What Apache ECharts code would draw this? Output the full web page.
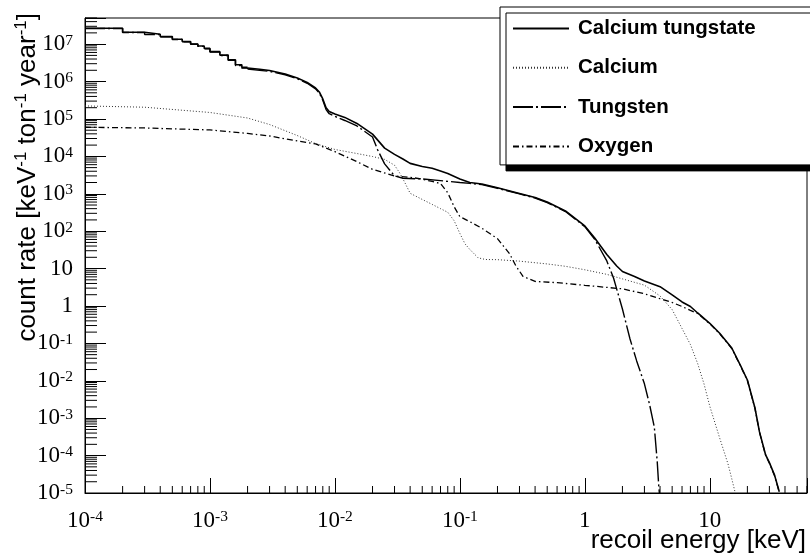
<!DOCTYPE html>
<html>
<head>
<meta charset="utf-8">
<script src="https://cdn.jsdelivr.net/npm/echarts@6/dist/echarts.min.js"></script>
<style>html,body{margin:0;padding:0;background:#fff}#main{width:810px;height:557px}</style>
</head>
<body>
<div id="main"></div>
<script>
// ---------------- data ----------------
// Calcium tungstate (total), low-energy histogram steps
const energyTotalSteps = [1e-4, 2e-4, 3e-4, 4e-4, 5e-4, 6e-4, 7e-4, 8e-4, 9e-4, 1e-3, 1.2e-3, 1.4e-3, 1.6e-3, 1.8e-3, 2e-3];
const rateTotalSteps   = [2.66e7, 2.08e7, 1.84e7, 1.59e7, 1.35e7, 1.17e7, 1.01e7, 8.9e6, 7.7e6, 6.3e6, 5.1e6, 3.8e6, 2.8e6, 2.4e6, 2.31e6];
// Calcium tungstate (total), rest of the spectrum
const energyTotal = [2e-3, 2.5e-3, 3e-3, 4e-3, 5e-3, 6e-3, 7e-3, 7.5e-3, 8e-3, 8.5e-3, 9e-3, 1e-2, 1.2e-2, 1.5e-2, 2e-2, 2.5e-2, 3e-2, 3.5e-2, 4e-2, 5e-2, 6e-2, 7e-2, 8e-2, 0.1, 0.12, 0.15, 0.2, 0.3, 0.4, 0.5, 0.7, 1, 1.2, 1.5, 1.8, 2, 2.5, 3, 4, 5, 6, 7, 8, 10, 12, 15, 18, 20, 23, 25, 28, 30, 33, 36];
const rateTotal   = [2.31e6, 2.13e6, 1.98e6, 1.60e6, 1.25e6, 9.5e5, 6.75e5, 5.27e5, 3.43e5, 1.99e5, 1.59e5, 1.36e5, 1.10e5, 7.6e4, 3.93e4, 1.66e4, 1.13e4, 8.5e3, 6.5e3, 5.37e3, 4.83e3, 4.07e3, 3.49e3, 2.49e3, 2.0e3, 1.82e3, 1.45e3, 1.02e3, 7.96e2, 6.0e2, 3.47e2, 1.38e2, 65.8, 23.8, 11.7, 8.36, 6.15, 4.66, 3.28, 1.97, 1.28, 0.97, 0.65, 0.344, 0.186, 0.0753, 0.022, 0.0105, 1.87e-3, 4.3e-4, 1.04e-4, 6.5e-5, 3.0e-5, 1.08e-5];

// Tungsten
const energyTungstenSteps = [1e-4, 2e-4, 3e-4, 4e-4, 5e-4, 6e-4, 7e-4, 8e-4, 9e-4, 1e-3, 1.2e-3, 1.4e-3, 1.6e-3, 1.8e-3, 2e-3];
const rateTungstenSteps   = [2.63e7, 2.05e7, 1.81e7, 1.565e7, 1.33e7, 1.15e7, 9.9e6, 8.7e6, 7.55e6, 6.15e6, 4.97e6, 3.68e6, 2.69e6, 2.28e6, 2.16e6];
const energyTungsten = [2e-3, 2.5e-3, 3e-3, 4e-3, 5e-3, 6e-3, 7e-3, 7.5e-3, 8e-3, 8.5e-3, 9e-3, 1e-2, 1.2e-2, 1.5e-2, 2e-2, 2.2e-2, 2.5e-2, 3e-2, 3.5e-2, 5e-2, 7e-2, 0.1, 0.12, 0.15, 0.2, 0.3, 0.4, 0.5, 0.7, 1, 1.2, 1.5, 1.7, 2, 2.3, 2.6, 3, 3.3, 3.6, 3.8, 3.9, 3.95];
const rateTungsten   = [2.16e6, 1.99e6, 1.87e6, 1.52e6, 1.19e6, 9.0e5, 6.4e5, 4.95e5, 3.15e5, 1.78e5, 1.38e5, 1.17e5, 9.1e4, 6.5e4, 3.3e4, 1.48e4, 6.3e3, 3.0e3, 2.6e3, 2.49e3, 2.24e3, 2.0e3, 1.9e3, 1.75e3, 1.40e3, 9.9e2, 7.7e2, 5.8e2, 3.35e2, 1.32e2, 61, 16, 5.5, 0.83, 0.131, 0.034, 8.3e-3, 2.3e-3, 5.8e-4, 6.7e-5, 1.64e-5, 1.0e-5];

// Calcium
const energyCalcium = [1e-4, 3e-4, 1e-3, 2e-3, 3e-3, 5e-3, 7e-3, 1e-2, 1.5e-2, 2e-2, 2.5e-2, 3e-2, 3.3e-2, 3.6e-2, 4e-2, 5e-2, 6e-2, 7e-2, 8e-2, 9e-2, 0.1, 0.11, 0.12, 0.14, 0.16, 0.2, 0.3, 0.5, 0.7, 1, 1.5, 2, 3, 4, 5, 6, 7, 8, 9, 10, 12, 14, 15, 16];
const rateCalcium   = [2.23e5, 2.06e5, 1.49e5, 1.06e5, 7.1e4, 3.6e4, 2.2e4, 1.53e4, 1.19e4, 9.9e3, 8.3e3, 5.8e3, 3.6e3, 2.1e3, 1.03e3, 7.05e2, 5.2e2, 4.0e2, 3.2e2, 1.9e2, 87, 45.7, 32.6, 19.4, 17.5, 17.3, 15.8, 13.3, 11.5, 9.3, 7.0, 5.3, 3.6, 1.85, 0.8, 0.25, 0.093, 0.029, 8.2e-3, 2.1e-3, 2.96e-4, 5.96e-5, 2.4e-5, 1.0e-5];

// Oxygen
const energyOxygen = [1e-4, 3e-4, 1e-3, 2e-3, 3e-3, 5e-3, 7e-3, 1e-2, 1.5e-2, 2e-2, 3e-2, 4e-2, 5e-2, 6e-2, 7e-2, 8e-2, 9e-2, 0.1, 0.12, 0.15, 0.2, 0.25, 0.28, 0.32, 0.4, 0.6, 1, 2, 3, 4, 5, 6, 7, 8, 10, 12, 15, 18, 20, 23, 25, 28, 30, 33, 36];
const rateOxygen   = [6.0e4, 5.74e4, 5.08e4, 4.1e4, 3.5e4, 2.58e4, 2.15e4, 1.34e4, 7.2e3, 4.5e3, 2.99e3, 2.76e3, 2.46e3, 2.13e3, 1.88e3, 1.06e3, 4.5e2, 2.44e2, 1.8e2, 1.2e2, 63, 25, 12, 6.2, 4.52, 4.2, 3.57, 2.87, 2.12, 1.56, 1.24, 0.97, 0.76, 0.63, 0.335, 0.181, 0.073, 0.0213, 0.0102, 1.82e-3, 4.2e-4, 1.01e-4, 6.3e-5, 2.9e-5, 1.05e-5];

// axes
const xMin = 1e-4, xMax = 60;
const yMin = 1e-5, yMax = 5e7;
const xMajorTicks = [1e-4, 1e-3, 1e-2, 1e-1, 1, 10];
const yMajorTicks = [1e-5, 1e-4, 1e-3, 1e-2, 1e-1, 1, 10, 1e2, 1e3, 1e4, 1e5, 1e6, 1e7];
const minorSteps = [2, 3, 4, 5, 6, 7, 8, 9];
const seriesNames = ['Calcium tungstate', 'Calcium', 'Tungsten', 'Oxygen'];
const xTitle = 'recoil energy [keV]';
const yTitle = 'count rate [keV{s|-1} ton{s|-1} year{s|-1}]';

// ---------------- helpers ----------------
function pairs(xs, ys) { return xs.map(function (x, i) { return [x, ys[i]]; }); }
function minorTicks(majors, hi) {
  const out = [];
  majors.forEach(function (m) { minorSteps.forEach(function (k) { const v = m * k; if (v <= hi * 1.0001) out.push(v); }); });
  return out;
}
const xMinor = minorTicks(xMajorTicks, xMax);
const yMinor = minorTicks(yMajorTicks, yMax);

function powLabel(v) {
  const e = Math.log10(v), n = Math.round(e);
  if (Math.abs(e - n) > 1e-6) return '';
  if (n === 0) return '{b|1}';
  if (n === 1) return '{b|10}';
  return '{b|10}{s|' + n + '}';
}
const labelRich = {
  b: { fontFamily: 'Liberation Serif', fontSize: 23, lineHeight: 23, color: '#000' },
  s: { fontFamily: 'Liberation Serif', fontSize: 15.5, lineHeight: 13, color: '#000', verticalAlign: 'top' }
};

const chart = echarts.init(document.getElementById('main'), null, { renderer: 'canvas' });

const option = {
  animation: false,
  backgroundColor: '#fff',
  grid: { left: 85, right: 3, top: 18, bottom: 64, containLabel: false, outerBoundsMode: 'none', show: true, borderColor: '#000', borderWidth: 1, backgroundColor: 'transparent' },
  legend: {
    data: seriesNames,
    orient: 'vertical',
    left: 500, top: 7,
    padding: [11, 80, 8, 12],
    itemWidth: 56, itemHeight: 14, itemGap: 18.3,
    backgroundColor: '#fff', borderColor: '#000', borderWidth: 1,
    shadowColor: '#000', shadowBlur: 0, shadowOffsetX: 6, shadowOffsetY: 6,
    selectedMode: false,
    itemStyle: { opacity: 0 },
    textStyle: { fontFamily: 'Liberation Sans', fontWeight: 'bold', fontSize: 20.5, lineHeight: 20, color: '#000', padding: [0, 0, 0, 4] }
  },
  graphic: [
    {
      type: 'text', x: 806, y: 541, silent: true,
      style: { text: xTitle, fontFamily: 'Liberation Sans', fontSize: 26, fill: '#000', align: 'right', verticalAlign: 'middle' }
    },
    {
      type: 'text', x: 28, y: 13, rotation: Math.PI / 2, silent: true,
      style: {
        text: yTitle, fontFamily: 'Liberation Sans', fontSize: 26, lineHeight: 30, fill: '#000', align: 'right', verticalAlign: 'middle',
        rich: { s: { fontFamily: 'Liberation Sans', fontSize: 17, lineHeight: 17, fill: '#000', verticalAlign: 'top' } }
      }
    }
  ],
  xAxis: {
    type: 'log', logBase: 10, min: xMin, max: xMax, interval: 1,
    axisLine: { show: true, lineStyle: { color: '#000', width: 1 } },
    axisTick: { show: true, inside: true, length: 15, lineStyle: { color: '#000', width: 1 } },
    axisLabel: { show: true, margin: 16, formatter: powLabel, rich: labelRich },
    splitLine: { show: false }, minorTick: { show: false }, minorSplitLine: { show: false }
  },
  yAxis: {
    type: 'log', logBase: 10, min: yMin, max: yMax, interval: 1,
    axisLine: { show: true, lineStyle: { color: '#000', width: 1 } },
    axisTick: { show: true, inside: true, length: 21, lineStyle: { color: '#000', width: 1 } },
    axisLabel: { show: true, margin: 12, formatter: powLabel, rich: labelRich },
    splitLine: { show: false }, minorTick: { show: false }, minorSplitLine: { show: false }
  },
  series: [
    {
      name: 'Calcium', type: 'line', symbol: 'none', z: 3, color: '#333',
      data: pairs(energyCalcium, rateCalcium),
      lineStyle: { color: '#333', width: 1, type: [1, 2] }
    },
    {
      name: 'Oxygen', type: 'line', symbol: 'none', z: 3, color: '#000',
      data: pairs(energyOxygen, rateOxygen),
      lineStyle: { color: '#000', width: 1.3, type: [6, 3, 1.5, 3] }
    },
    {
      name: 'Tungsten', type: 'line', symbol: 'none', z: 4, step: 'end', color: '#000',
      data: pairs(energyTungstenSteps, rateTungstenSteps),
      lineStyle: { color: '#000', width: 1.4, type: [20, 3, 2, 3] }
    },
    {
      name: 'Tungsten', type: 'line', symbol: 'none', z: 4, color: '#000',
      data: pairs(energyTungsten, rateTungsten),
      lineStyle: { color: '#000', width: 1.4, type: [20, 3, 2, 3] }
    },
    {
      name: 'Calcium tungstate', type: 'line', symbol: 'none', z: 5, step: 'end', color: '#000',
      data: pairs(energyTotalSteps, rateTotalSteps),
      lineStyle: { color: '#000', width: 1.6, type: 'solid' }
    },
    {
      name: 'Calcium tungstate', type: 'line', symbol: 'none', z: 5, color: '#000',
      data: pairs(energyTotal, rateTotal),
      lineStyle: { color: '#000', width: 1.6, type: 'solid' }
    },
    {
      name: 'yMinorTicks', type: 'custom', silent: true, z: 6,
      data: yMinor.map(function (v) { return [xMin, v]; }),
      renderItem: function (params, api) {
        const p = api.coord([api.value(0), api.value(1)]);
        return { type: 'line', shape: { x1: p[0], y1: p[1], x2: p[0] + 12, y2: p[1] }, style: { stroke: '#000', lineWidth: 1 } };
      }
    },
    {
      name: 'xMinorTicks', type: 'custom', silent: true, z: 6,
      data: xMinor.map(function (v) { return [v, yMin]; }),
      renderItem: function (params, api) {
        const p = api.coord([api.value(0), api.value(1)]);
        return { type: 'line', shape: { x1: p[0], y1: p[1], x2: p[0], y2: p[1] - 7 }, style: { stroke: '#000', lineWidth: 1 } };
      }
    }
  ]
};
chart.setOption(option);
</script>
</body>
</html>
